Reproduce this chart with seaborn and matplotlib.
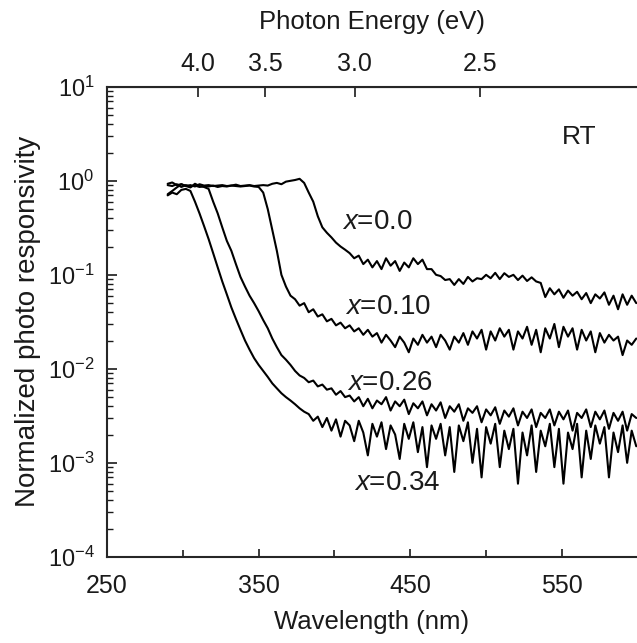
import numpy as np
import pandas as pd
import seaborn as sns
import matplotlib
matplotlib.use('Agg')
import matplotlib.pyplot as plt

# wavelength grid (nm), 3 nm steps
wavelength = np.arange(290, 602, 3)

# normalized photo responsivity
resp_x000 = [0.93, 0.96, 0.90, 0.92, 0.88, 0.90, 0.87, 0.92, 0.89, 0.90,
             0.88, 0.89, 0.90, 0.88, 0.89, 0.91, 0.88, 0.89, 0.90, 0.88,
             0.89, 0.90, 0.89, 0.93, 0.95, 0.92, 0.98, 1.00, 1.02, 1.05,
             0.95, 0.75, 0.60, 0.42, 0.32, 0.28, 0.25, 0.22, 0.20, 0.185,
             0.17, 0.15, 0.16, 0.13, 0.145, 0.12, 0.14, 0.115, 0.15, 0.125,
             0.14, 0.11, 0.135, 0.12, 0.15, 0.13, 0.145, 0.115, 0.115, 0.10,
             0.097, 0.088, 0.09, 0.078, 0.09, 0.08, 0.095, 0.085, 0.092, 0.09,
             0.1, 0.092, 0.105, 0.09, 0.104, 0.095, 0.1, 0.088, 0.098, 0.086,
             0.094, 0.085, 0.082, 0.058, 0.072, 0.062, 0.07, 0.057, 0.068, 0.06,
             0.066, 0.055, 0.064, 0.05, 0.062, 0.056, 0.065, 0.048, 0.06, 0.043,
             0.062, 0.048, 0.06, 0.05]

resp_x010 = [0.90, 0.88, 0.92, 0.86, 0.90, 0.87, 0.89, 0.86, 0.88, 0.87,
             0.89, 0.86, 0.88, 0.87, 0.89, 0.88, 0.87, 0.88, 0.89, 0.87,
             0.86, 0.75, 0.50, 0.30, 0.18, 0.10, 0.075, 0.06, 0.055, 0.047,
             0.05, 0.04, 0.043, 0.036, 0.038, 0.032, 0.034, 0.029, 0.031, 0.027,
             0.029, 0.025, 0.027, 0.023, 0.026, 0.022, 0.024, 0.019, 0.023, 0.02,
             0.017, 0.022, 0.019, 0.015, 0.021, 0.018, 0.023, 0.019, 0.022, 0.017,
             0.023, 0.02, 0.016, 0.022, 0.019, 0.024, 0.018, 0.025, 0.021, 0.026,
             0.016, 0.025, 0.02, 0.027, 0.022, 0.026, 0.016, 0.025, 0.021, 0.028,
             0.018, 0.026, 0.015, 0.027, 0.021, 0.03, 0.017, 0.028, 0.022, 0.027,
             0.016, 0.026, 0.02, 0.025, 0.015, 0.024, 0.019, 0.023, 0.02, 0.022,
             0.014, 0.02, 0.018, 0.021]

resp_x026 = [0.72, 0.78, 0.85, 0.92, 0.88, 0.85, 0.93, 0.88, 0.86, 0.82,
             0.60, 0.45, 0.32, 0.23, 0.18, 0.13, 0.095, 0.075, 0.06, 0.05,
             0.041, 0.033, 0.027, 0.021, 0.017, 0.014, 0.0125, 0.011, 0.0095, 0.0085,
             0.008, 0.0072, 0.0075, 0.0065, 0.0068, 0.006, 0.0062, 0.0053, 0.0058, 0.005,
             0.0052, 0.0045, 0.005, 0.004, 0.0048, 0.0038, 0.0046, 0.0042, 0.005, 0.0036,
             0.0045, 0.004, 0.0047, 0.0033, 0.0043, 0.0038, 0.0045, 0.0032, 0.0042, 0.0036,
             0.0044, 0.003, 0.004, 0.0035, 0.0042, 0.0028, 0.0038, 0.0034, 0.004, 0.0027,
             0.0037, 0.0032, 0.0039, 0.0026, 0.0036, 0.0031, 0.0038, 0.0025, 0.0035, 0.003,
             0.0037, 0.0024, 0.0034, 0.003, 0.0037, 0.0025, 0.0035, 0.0029, 0.0036, 0.0022,
             0.0034, 0.003, 0.0037, 0.0024, 0.0035, 0.0029, 0.0036, 0.0023, 0.0034, 0.0028,
             0.0035, 0.0022, 0.0033, 0.003]

resp_x034 = [0.70, 0.75, 0.72, 0.80, 0.82, 0.78, 0.60, 0.45, 0.33, 0.24,
             0.17, 0.12, 0.085, 0.062, 0.045, 0.034, 0.026, 0.02, 0.016, 0.013,
             0.011, 0.0095, 0.0082, 0.007, 0.0062, 0.0055, 0.005, 0.0046, 0.0042, 0.0038,
             0.0035, 0.0033, 0.0028, 0.0031, 0.0024, 0.003, 0.0022, 0.0029, 0.0019, 0.0028,
             0.0025, 0.0017, 0.0028, 0.0021, 0.0012, 0.0026, 0.0019, 0.0027, 0.0014, 0.0025,
             0.002, 0.0011, 0.0026, 0.0018, 0.0027, 0.0013, 0.0024, 0.0009, 0.0025, 0.0018,
             0.0026, 0.0012, 0.0024, 0.0008, 0.0025, 0.0017, 0.0027, 0.001, 0.0023, 0.0007,
             0.0024, 0.0016, 0.0026, 0.0009, 0.0022, 0.0014, 0.0023, 0.0006, 0.0021, 0.0012,
             0.0025, 0.0008, 0.0022, 0.0015, 0.0026, 0.0009, 0.0023, 0.0006, 0.0021, 0.0014,
             0.0026, 0.0007, 0.0022, 0.0011, 0.0025, 0.0016, 0.0024, 0.0007, 0.0021, 0.0013,
             0.0025, 0.001, 0.0022, 0.0015]

labels = ['0.0', '0.10', '0.26', '0.34']
energy_ticks = [4.0, 3.5, 3.0, 2.5]

df = pd.concat([
    pd.DataFrame({'wl': wavelength, 'r': vals, 'x': lab})
    for vals, lab in zip([resp_x000, resp_x010, resp_x026, resp_x034], labels)
])

sns.set_style('ticks')
plt.rcParams['font.family'] = ['Liberation Sans', 'DejaVu Sans']
plt.rcParams['mathtext.fontset'] = 'custom'
plt.rcParams['mathtext.rm'] = 'Liberation Sans'
plt.rcParams['mathtext.it'] = 'Liberation Sans:italic'
txt = '#1a1a1a'

fig = plt.figure(figsize=(6.37, 6.43), dpi=100)
ax = fig.add_axes([0.168, 0.134, 0.832, 0.731])

sns.lineplot(data=df, x='wl', y='r', hue='x', palette=['black'] * 4,
             estimator=None, sort=False, legend=False, lw=1.5, ax=ax)

ax.set_yscale('log')
ax.set_xlim(250, 599.5)
ax.set_ylim(1e-4, 10)
ax.set_xticks([250, 350, 450, 550])
ax.set_xticks([300, 400, 500], minor=True)
ax.tick_params(axis='both', which='both', direction='in', colors=txt)
ax.tick_params(axis='x', which='major', length=6, width=1.2, labelsize=18, pad=12)
ax.tick_params(axis='x', which='minor', length=5, width=1.2)
ax.tick_params(axis='y', which='major', length=7, width=1.2, labelsize=17, pad=9)
ax.tick_params(axis='y', which='minor', length=4, width=1.0)
for s in ['left', 'bottom', 'top']:
    ax.spines[s].set_linewidth(1.5)
ax.spines['right'].set_visible(False)

ax.set_xlabel('Wavelength (nm)', fontsize=18.5, color=txt, labelpad=9)
ax.set_ylabel('Normalized photo responsivity', fontsize=20, color=txt, labelpad=5)

top = ax.secondary_xaxis('top', functions=(lambda w: 1240.0 / w, lambda e: 1240.0 / e))
top.set_xticks(energy_ticks)
top.set_xticklabels(['4.0', '3.5', '3.0', '2.5'])
top.tick_params(direction='in', length=7, width=1.2, labelsize=18, colors=txt, pad=8)
top.xaxis.set_minor_locator(matplotlib.ticker.NullLocator())
top.set_xlabel('Photon Energy (eV)', fontsize=18.5, color=txt, labelpad=16)

# curve labels
ax.text(405, 0.366, r'$\it{x}$=0.0', fontsize=20, color=txt, va='center')
ax.text(407, 0.0457, r'$\it{x}$=0.10', fontsize=20, color=txt, va='center')
ax.text(408.5, 0.0071, r'$\it{x}$=0.26', fontsize=20, color=txt, va='center')
ax.text(413, 0.00061, r'$\it{x}$=0.34', fontsize=20, color=txt, va='center')
ax.text(0.89, 0.894, 'RT', transform=ax.transAxes, fontsize=19, color=txt,
        ha='center', va='center')

fig.savefig('out.png', dpi=100)
